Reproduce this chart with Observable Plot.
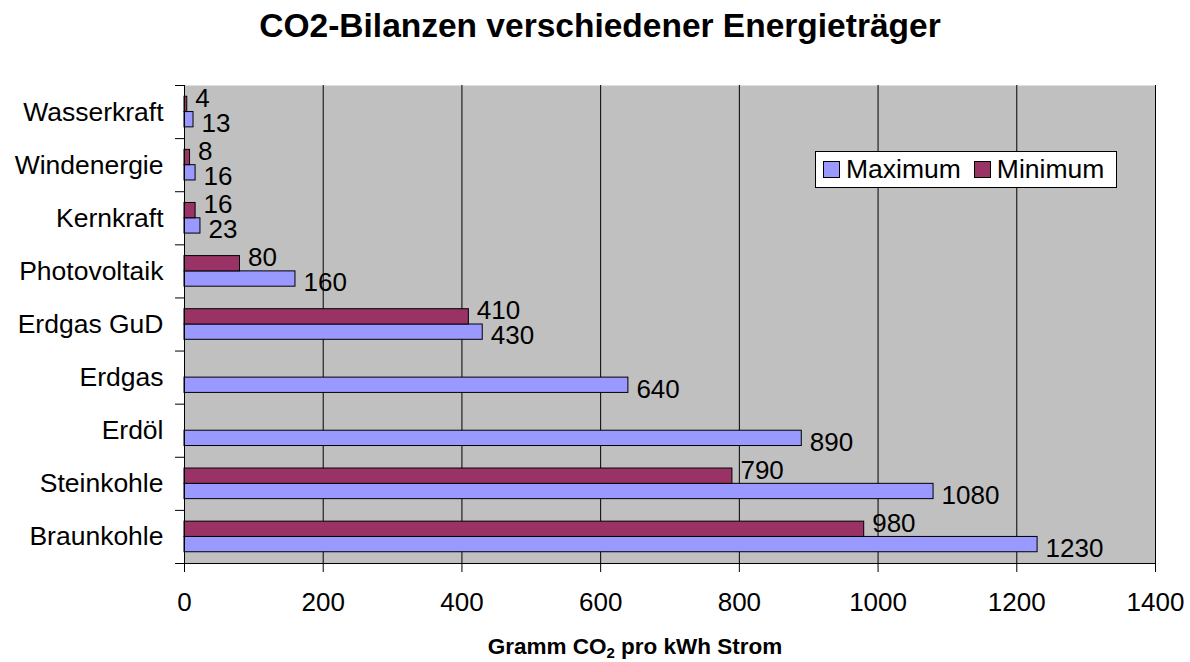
<!DOCTYPE html>
<html>
<head>
<meta charset="utf-8">
<script src="https://cdn.jsdelivr.net/npm/d3@7"></script>
<script src="https://cdn.jsdelivr.net/npm/@observablehq/plot@0.6"></script>
<style>
  html, body { margin: 0; padding: 0; background: #fff; width: 1190px; height: 662px; overflow: hidden; position: relative; }
  body { font-family: "Liberation Sans", Arial, sans-serif; color: #000; }
  #title { height: 60px; line-height: 52px; box-sizing: border-box; padding-left: 10px; text-align: center; font-weight: bold; font-size: 33.5px; }
  #xlabel { position: absolute; left: 0; top: 630px; width: 1190px; box-sizing: border-box; padding-left: 80px; text-align: center; font-weight: bold; font-size: 22.5px; line-height: 34px; }
  #xlabel sub { font-size: 15px; vertical-align: -4px; line-height: 0; }
  #legend { position: absolute; left: 815px; top: 151px; width: 302px; height: 37px; box-sizing: border-box; border: 1px solid #000; background: #fff; display: flex; align-items: center; font-size: 26.5px; padding-left: 7px; }
  .sw { width: 17px; height: 17px; border: 1px solid #000; box-sizing: border-box; margin-right: 6px; }
  .item { display: flex; align-items: center; margin-right: 13px; }
</style>
</head>
<body>
<div id="title">CO2-Bilanzen verschiedener Energieträger</div>
<div id="chart"></div>
<div id="legend"></div>
<div id="xlabel">Gramm CO<sub>2</sub> pro kWh Strom</div>
<script>
// Data (bottom to top as drawn)
const categories = ["Braunkohle", "Steinkohle", "Erdöl", "Erdgas", "Erdgas GuD", "Photovoltaik", "Kernkraft", "Windenergie", "Wasserkraft"];
const maximum = [1230, 1080, 890, 640, 430, 160, 23, 16, 13];
const minimum = [980, 790, null, null, 410, 80, 16, 8, 4];
const xTicks = [0, 200, 400, 600, 800, 1000, 1200, 1400];
const seriesNames = ["Maximum", "Minimum"];
const seriesColors = ["#9999FF", "#993366"];

const rows = categories.map((c, i) => ({ cat: c, i, max: maximum[i], min: minimum[i] }));
const rowsMin = rows.filter(d => d.min != null);

const BAR = 0.288; // bar thickness as a fraction of the category band

const chart = Plot.plot({
  width: 1190,
  height: 570,
  marginLeft: 184,
  marginRight: 35,
  marginTop: 25,
  marginBottom: 67,
  style: { background: "white", color: "black", fontFamily: "'Liberation Sans', Arial, sans-serif", fontSize: "26px", overflow: "visible" },
  x: { domain: [0, 1400], label: null },
  y: { domain: [0, categories.length], label: null },
  marks: [
    Plot.frame({ fill: "#C0C0C0", stroke: null }),
    Plot.gridX(xTicks, { stroke: "#000", strokeOpacity: 1, strokeWidth: 1 }),
    Plot.rect(rows, { x1: 0, x2: "max", y1: d => d.i + 0.5 - BAR, y2: d => d.i + 0.5, fill: seriesColors[0], stroke: "#000", strokeWidth: 1 }),
    Plot.rect(rowsMin, { x1: 0, x2: "min", y1: d => d.i + 0.5, y2: d => d.i + 0.5 + BAR, fill: seriesColors[1], stroke: "#000", strokeWidth: 1 }),
    Plot.text(rows, { x: "max", y: d => d.i + 0.5 - BAR / 2, text: d => String(d.max), textAnchor: "start", dx: 8, dy: 4, fill: "#000" }),
    Plot.text(rowsMin, { x: "min", y: d => d.i + 0.5 + BAR / 2, text: d => String(d.min), textAnchor: "start", dx: 8, dy: -6, fill: "#000" }),
    Plot.ruleX([0], { stroke: "#000" }),
    Plot.ruleY([0], { stroke: "#000" }),
    Plot.axisX({ ticks: xTicks, tickSize: 9, tickPadding: 20, tickFormat: d => String(d), label: null, stroke: "#000", fill: "#000" }),
    Plot.axisY({ ticks: d3.range(0, categories.length + 1), tickSize: 9, tickFormat: () => "", label: null, stroke: "#000" }),
    Plot.axisY({ ticks: categories.map((c, i) => i + 0.5), tickSize: 0, tickPadding: 21, tickFormat: v => categories[Math.floor(v)], label: null, fill: "#000", fontSize: 26.5 })
  ]
});
document.getElementById("chart").appendChild(chart);

// Legend
const legend = document.getElementById("legend");
seriesNames.forEach((name, k) => {
  const item = document.createElement("div");
  item.className = "item";
  const sw = document.createElement("div");
  sw.className = "sw";
  sw.style.background = seriesColors[k];
  const t = document.createElement("span");
  t.textContent = name;
  item.appendChild(sw);
  item.appendChild(t);
  legend.appendChild(item);
});
</script>
</body>
</html>
